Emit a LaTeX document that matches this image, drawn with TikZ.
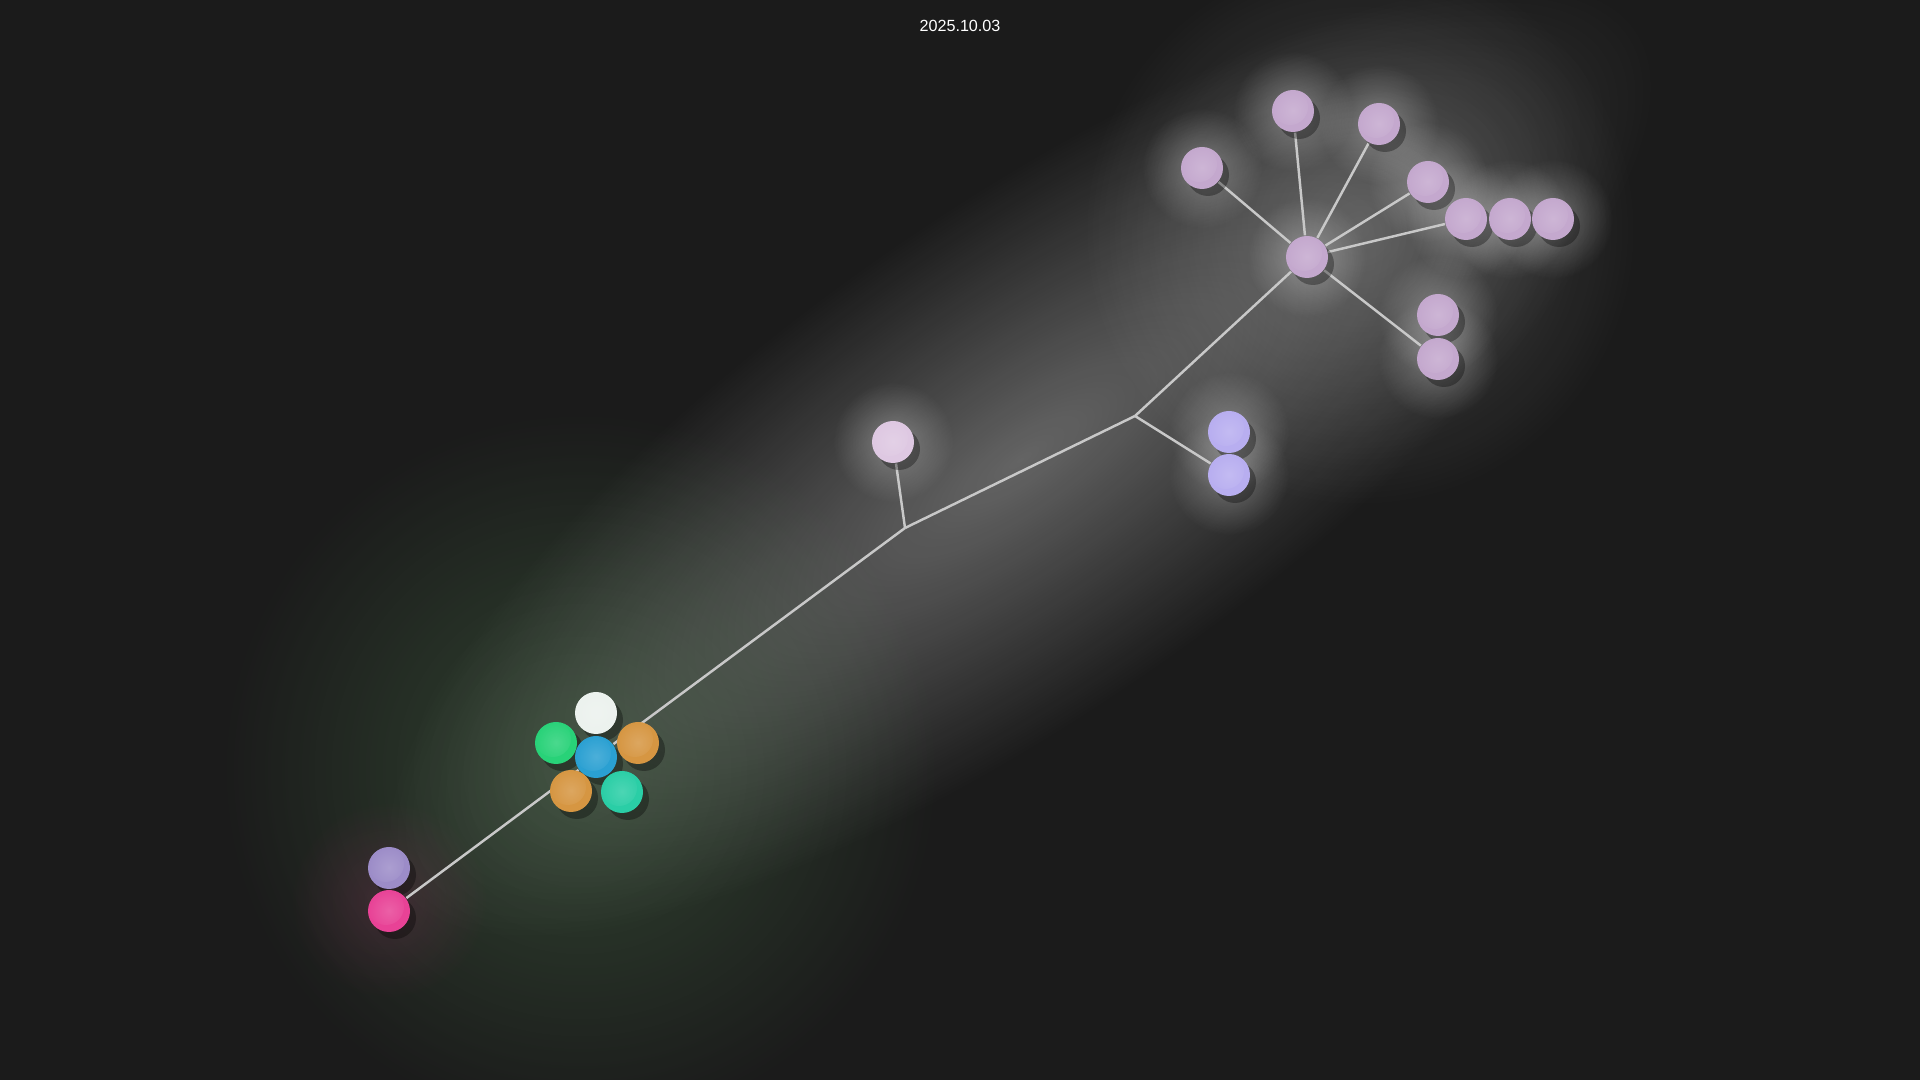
\documentclass[tikz,border=0pt]{standalone}
\usepackage{fontspec}
\setmainfont{Liberation Sans}
\usetikzlibrary{shadows, fadings}

\definecolor{bgdark}{RGB}{27,27,27}
\definecolor{edgegrey}{RGB}{200,200,200}
\definecolor{lilac}{RGB}{196,168,206}
\definecolor{palepink}{RGB}{222,200,226}
\definecolor{periwinkle}{RGB}{184,174,240}
\definecolor{dustyviolet}{RGB}{156,140,200}
\definecolor{hotpink}{RGB}{232,66,150}
\definecolor{snow}{RGB}{236,242,238}
\definecolor{mint}{RGB}{40,210,120}
\definecolor{skyblue}{RGB}{42,160,210}
\definecolor{amber}{RGB}{214,150,66}
\definecolor{teal}{RGB}{42,206,166}
\definecolor{mossgreen}{RGB}{80,125,80}

\tikzfading[name=softedge, inner color=transparent!0, outer color=transparent!100]

\pgfdeclarelayer{back}
\pgfdeclarelayer{haze}
\pgfdeclarelayer{edges}
\pgfsetlayers{back,haze,edges,main}

\begin{document}
\begin{tikzpicture}
    \tikzstyle{ball} = [circle, minimum size=0.42cm, inner sep=0pt,
        drop shadow={shadow xshift=0.06cm, shadow yshift=-0.07cm, opacity=0.32, fill=black},
        path picture={\fill[white, opacity=0.16, path fading=softedge]
            ([xshift=-0.03cm, yshift=0.04cm]path picture bounding box.center) circle (0.18cm);}]
    \tikzstyle{edge} = [draw=edgegrey, line width=0.7pt]
    \tikzstyle{glow} = [path fading=softedge]

    \useasboundingbox (0,0) rectangle (19.2,10.8);

    % 日期
    \node[text=white, font=\fontsize{4.6}{5.5}\selectfont] (date) at (9.6,10.54) {2025.10.03};

    % 中间彩色小球
    \node[ball, fill=snow] (white) at (5.96,3.67) {};
    \node[ball, fill=mint] (green) at (5.56,3.37) {};
    \node[ball, fill=skyblue] (blue) at (5.96,3.23) {};
    \node[ball, fill=amber] (amberR) at (6.38,3.37) {};
    \node[ball, fill=amber] (amberB) at (5.71,2.89) {};
    \node[ball, fill=teal] (teal) at (6.22,2.88) {};

    % 左下角
    \node[ball, fill=dustyviolet] (violet) at (3.89,2.12) {};
    \node[ball, fill=hotpink] (pink) at (3.89,1.69) {};

    % 分叉点
    \coordinate (fork1) at (9.05,5.52);
    \coordinate (fork2) at (11.35,6.64);

    \node[ball, fill=palepink] (pale) at (8.93,6.38) {};
    \node[ball, fill=periwinkle] (peri1) at (12.29,6.48) {};
    \node[ball, fill=periwinkle] (peri2) at (12.29,6.05) {};

    % 右上角
    \node[ball, fill=lilac] (hub) at (13.07,8.23) {};
    \node[ball, fill=lilac] (leafA) at (12.02,9.12) {};
    \node[ball, fill=lilac] (leafB) at (12.93,9.69) {};
    \node[ball, fill=lilac] (leafC) at (13.79,9.56) {};
    \node[ball, fill=lilac] (leafD) at (14.28,8.98) {};
    \node[ball, fill=lilac] (leafE) at (14.66,8.61) {};
    \node[ball, fill=lilac] (leafF) at (15.10,8.61) {};
    \node[ball, fill=lilac] (leafG) at (15.53,8.61) {};
    \node[ball, fill=lilac] (leafH) at (14.38,7.65) {};
    \node[ball, fill=lilac] (leafI) at (14.38,7.21) {};

    % 连线
    \begin{pgfonlayer}{edges}
        \path [edge] (pink) -- (blue);
        \path [edge] (blue) -- (fork1);
        \path [edge] (fork1) -- (pale);
        \path [edge] (fork1) -- (fork2);
        \path [edge] (fork2) -- (peri2);
        \path [edge] (fork2) -- (hub);
        \foreach \leaf in {leafA, leafB, leafC, leafD, leafE, leafI}
            \path [edge] (hub) -- (\leaf);
    \end{pgfonlayer}

    % 背景与光晕
    \begin{pgfonlayer}{back}
        \fill[bgdark] (0,0) rectangle (19.2,10.8);
    \end{pgfonlayer}
    \begin{pgfonlayer}{haze}
        \fill[mossgreen, opacity=0.42, glow] (5.8,3.1) circle (3.6);
        \begin{scope}[transform canvas={rotate around={35:(10.2,6.2)}}]
            \fill[white, opacity=0.32, glow] (10.2,6.2) ellipse (7.6 and 2.5);
        \end{scope}
        \fill[white, opacity=0.2, glow] (13.6,8.5) circle (2.8);
        \fill[hotpink, opacity=0.15, glow] (3.89,1.8) circle (1.0);
        \foreach \n in {pale, peri1, peri2, hub, leafA, leafB, leafC, leafD, leafE, leafF, leafG, leafH, leafI}
            \fill[white, opacity=0.3, glow] (\n) circle (0.6);
    \end{pgfonlayer}
\end{tikzpicture}
\end{document}
